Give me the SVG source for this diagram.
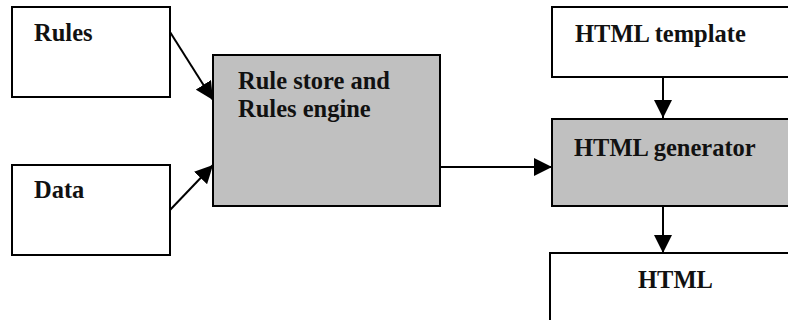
<svg xmlns="http://www.w3.org/2000/svg" width="788" height="320" viewBox="0 0 788 320">
  <defs>
    <style>
      .box { fill: #ffffff; stroke: #000000; stroke-width: 2; }
      .proc { fill: #c0c0c0; stroke: #000000; stroke-width: 2; }
      .label { font-family: "Liberation Serif", "Times New Roman", serif; font-weight: bold; font-size: 24.5px; fill: #111111; }
      .link { stroke: #000000; stroke-width: 2; fill: none; marker-end: url(#head); }
    </style>
    <marker id="head" viewBox="0 0 10 10" refX="10" refY="5" markerWidth="18" markerHeight="18" markerUnits="userSpaceOnUse" orient="auto">
      <path d="M0,0 L10,5 L0,10 Z" fill="#000000"/>
    </marker>
  </defs>
  <rect width="788" height="320" fill="#ffffff"/>

  <g id="rules">
    <rect class="box" x="12" y="7" width="158" height="90"/>
    <text class="label" x="34" y="41">Rules</text>
  </g>

  <g id="data">
    <rect class="box" x="12" y="165" width="158" height="90"/>
    <text class="label" x="34" y="198">Data</text>
  </g>

  <g id="rule-engine">
    <rect class="proc" x="213" y="55" width="227" height="151"/>
    <text class="label" x="238" y="89">Rule store and</text>
    <text class="label" x="238" y="117">Rules engine</text>
  </g>

  <g id="html-template">
    <rect class="box" x="552" y="7" width="250" height="70"/>
    <text class="label" x="575" y="42">HTML template</text>
  </g>

  <g id="html-generator">
    <rect class="proc" x="552" y="119" width="250" height="87"/>
    <text class="label" x="574" y="156">HTML generator</text>
  </g>

  <g id="html">
    <rect class="box" x="550" y="253" width="252" height="80"/>
    <text class="label" x="638" y="288">HTML</text>
  </g>

  <g id="connectors">
    <line class="link" x1="170" y1="32" x2="213" y2="100"/>
    <line class="link" x1="170" y1="210" x2="213" y2="165"/>
    <line class="link" x1="440" y1="167" x2="552" y2="167"/>
    <line class="link" x1="663" y1="77" x2="663" y2="118"/>
    <line class="link" x1="663" y1="206" x2="663" y2="253"/>
  </g>
</svg>
